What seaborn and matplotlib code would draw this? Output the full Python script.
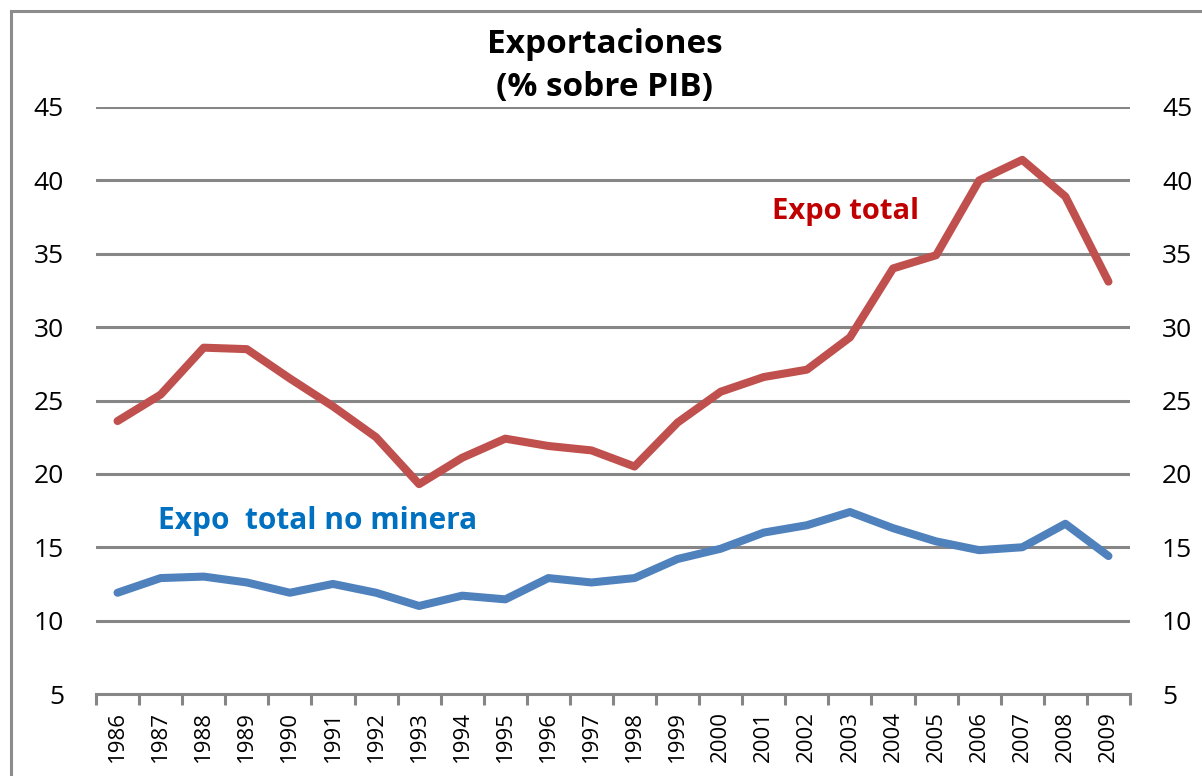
"""Exportaciones (% sobre PIB): total vs. no minera, 1986-2009."""

import matplotlib.pyplot as plt
import pandas as pd
import seaborn as sns
from matplotlib.patches import Rectangle
from matplotlib.ticker import FixedLocator, NullFormatter

YEARS = [str(y) for y in range(1986, 2010)]
EXPO_TOTAL = [
    23.6, 25.4, 28.6, 28.5, 26.5, 24.6, 22.5, 19.3, 21.1, 22.4, 21.9, 21.6,
    20.5, 23.5, 25.6, 26.6, 27.1, 29.3, 34.0, 34.9, 40.0, 41.4, 38.9, 33.1,
]
EXPO_NO_MINERA = [
    11.9, 12.9, 13.0, 12.6, 11.9, 12.5, 11.9, 11.0, 11.7, 11.45, 12.9, 12.6,
    12.9, 14.2, 14.9, 16.0, 16.5, 17.4, 16.3, 15.4, 14.8, 15.0, 16.6, 14.4,
]
Y_TICKS = [5, 10, 15, 20, 25, 30, 35, 40, 45]

RED = "#C0504D"
BLUE = "#4F81BD"
GRID = "#868686"

sns.set_theme(style="white")
plt.rcParams["font.family"] = ["Open Sans", "DejaVu Sans"]

frame = pd.DataFrame({"year": YEARS, "total": EXPO_TOTAL, "no_minera": EXPO_NO_MINERA})
frame["pos"] = range(len(frame))

fig = plt.figure(figsize=(12.02, 7.76), dpi=100)
ax = fig.add_axes([96 / 1202, 1 - 694 / 776, (1130 - 96) / 1202, (694 - 107) / 776])

for value in Y_TICKS[1:]:
    ax.axhline(value, color=GRID, linewidth=2.2, zorder=1)

sns.lineplot(data=frame, x="pos", y="total", color=RED, linewidth=5.8, ax=ax, zorder=3)
sns.lineplot(data=frame, x="pos", y="no_minera", color=BLUE, linewidth=5.8, ax=ax, zorder=3)

ax.set_xlim(-0.5, len(YEARS) - 0.5)
ax.set_ylim(5, 45)
ax.set_xlabel("")
ax.set_ylabel("")

# year labels centred on each category, tick marks on the category borders
ax.xaxis.set_minor_locator(FixedLocator([p - 0.5 for p in range(len(YEARS) + 1)]))
ax.xaxis.set_minor_formatter(NullFormatter())
ax.tick_params(axis="x", which="major", bottom=True, length=0, pad=12)
ax.tick_params(axis="x", which="minor", bottom=True, length=8, width=2.2,
               color=GRID, direction="out")
ax.set_xticks(frame["pos"])
ax.set_xticklabels(YEARS, rotation=90, fontsize=16, color="black")

ax.set_yticks(Y_TICKS)
ax.tick_params(axis="y", which="major", length=0, labelsize=19, labelcolor="black",
               labelleft=True, labelright=True, pad=23)

for side in ("left", "right", "top"):
    ax.spines[side].set_visible(False)
ax.spines["bottom"].set_color(GRID)
ax.spines["bottom"].set_linewidth(2.2)

fig.text(605 / 1202, 1 - 66 / 776, "Exportaciones\n(% sobre PIB)", ha="center", va="center",
         fontsize=24, fontweight="bold", linespacing=1.4, color="black")

ax.text(16.89, 37.85, "Expo total", color="#C00000", fontsize=21, fontweight="bold",
        ha="center", va="center")
ax.text(4.64, 16.8, "Expo  total no minera", color="#0070C0", fontsize=21.5, fontweight="bold",
        ha="center", va="center")

fig.patches.append(Rectangle((11 / 1202, -0.05), 1.2, 1 - 11 / 776 + 0.05,
                             transform=fig.transFigure, fill=False,
                             edgecolor="#8C8C8C", linewidth=2.2))

fig.savefig("out.png", dpi=100)
